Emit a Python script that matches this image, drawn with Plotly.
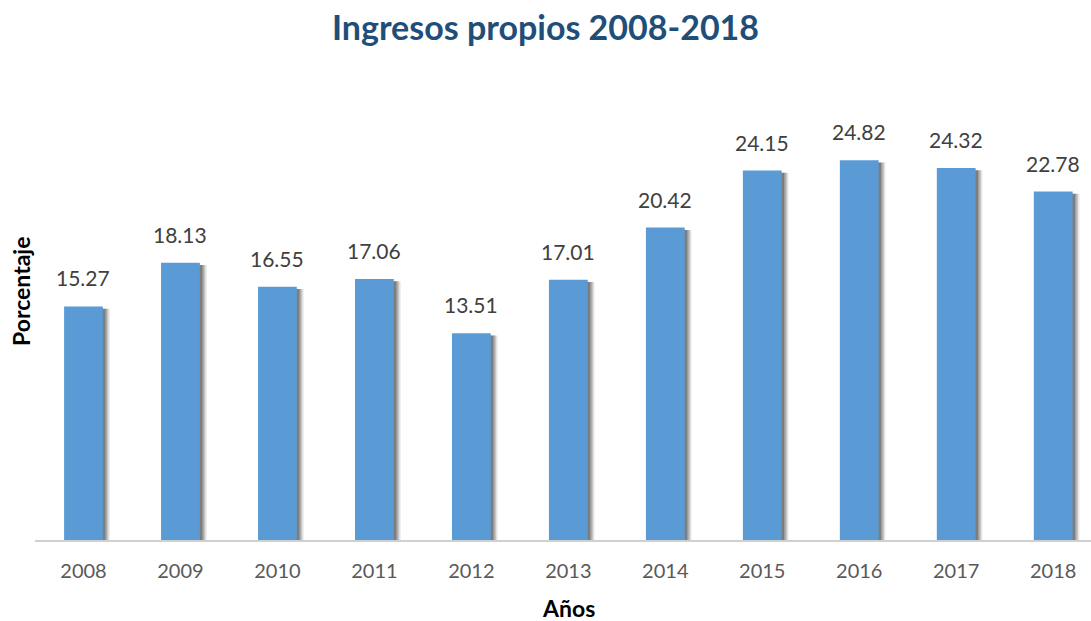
import plotly.graph_objects as go

years = ["2008", "2009", "2010", "2011", "2012", "2013", "2014", "2015", "2016", "2017", "2018"]
values = [15.27, 18.13, 16.55, 17.06, 13.51, 17.01, 20.42, 24.15, 24.82, 24.32, 22.78]
labels = ["15.27", "18.13", "16.55", "17.06", "13.51", "17.01", "20.42", "24.15", "24.82", "24.32", "22.78"]

FONT = "Lato, 'Open Sans', sans-serif"
BAR_W = 0.4

fig = go.Figure()

# soft shadow on the right side of each bar
for k, alpha in [(0.07, 0.10), (0.055, 0.14), (0.04, 0.18), (0.025, 0.22)]:
    fig.add_trace(go.Bar(
        x=years, y=[v - 0.15 for v in values],
        width=BAR_W, offset=-BAR_W / 2 + k,
        marker=dict(color=f"rgba(0,0,0,{alpha})", line=dict(width=0)),
        hoverinfo="skip", showlegend=False,
    ))

fig.add_trace(go.Bar(
    x=years, y=values, width=BAR_W, offset=-BAR_W / 2,
    marker=dict(color="#5B9BD5", line=dict(width=0)),
    showlegend=False,
))

# value labels (category index positions on the x axis)
annotations = [
    dict(x=i, y=v, text=lab, xref="x", yref="y", showarrow=False,
         yanchor="bottom", yshift=14,
         font=dict(family=FONT, size=21, color="#404040"))
    for i, (v, lab) in enumerate(zip(values, labels))
]
annotations += [
    dict(text="<b>Porcentaje</b>", xref="paper", yref="paper", x=-35/1056, xanchor="left",
         y=(540 - 292) / 460, yanchor="middle", textangle=-90, showarrow=False,
         font=dict(family=FONT, size=23, color="black"), xshift=5),
    dict(text="<b>Años</b>", xref="paper", yref="paper", x=(568-35)/1056, xanchor="center",
         y=-68/460, yanchor="middle", showarrow=False,
         font=dict(family=FONT, size=23, color="black")),
]

fig.update_layout(
    width=1091, height=621,
    barmode="overlay",
    plot_bgcolor="white", paper_bgcolor="white",
    margin=dict(l=35, r=0, t=80, b=81),
    title=dict(text="<b>Ingresos propios 2008-2018</b>", x=0.5, xanchor="center",
               y=0.955, yanchor="middle",
               font=dict(family=FONT, size=34, color="#1F4E79")),
    xaxis=dict(type="category", range=[-0.5, 10.39], showline=True, linecolor="#D0D0D0",
               linewidth=2, showgrid=False, ticks="outside", ticklen=12, tickcolor="rgba(0,0,0,0)",
               tickfont=dict(family=FONT, size=20, color="#595959")),
    yaxis=dict(range=[0, 30.07], showticklabels=False, showgrid=False, zeroline=False,
               showline=False),
    annotations=annotations,
)

fig.write_html("out.html", config={"displayModeBar": False},
               post_script="document.body.style.margin='0';")
